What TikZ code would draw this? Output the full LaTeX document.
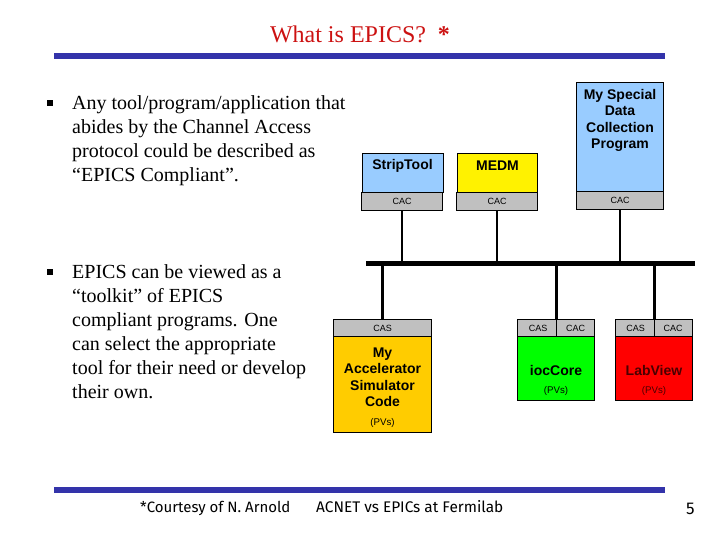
\documentclass[tikz,border=0pt]{standalone}
\usepackage{fontspec}
\setmainfont{Liberation Serif}
\newfontfamily\boxfont{Liberation Sans}
\newfontfamily\footfont{Fira Sans}
\definecolor{rulecol}{HTML}{3333AA}
\definecolor{titlecol}{HTML}{CC1111}
\definecolor{boxblue}{HTML}{99CCFF}
\definecolor{boxgray}{HTML}{C0C0C0}
\definecolor{boxorange}{HTML}{FFCC00}
\definecolor{darkonred}{HTML}{4A0000}
\tikzset{
  x=1pt,y=-1pt,
  blockbox/.style={draw=black,line width=0.8pt,rectangle,anchor=north west,inner sep=0pt,outer sep=0pt,minimum width=#1},
  main/.style={font=\boxfont\bfseries\fontsize{14}{16.5}\selectfont,align=center,inner sep=0pt},
  small/.style={font=\boxfont\fontsize{9}{11}\selectfont,inner sep=0pt},
  pvtext/.style={font=\boxfont\fontsize{9.7}{11}\selectfont,inner sep=0pt},
  rulebar/.style={fill=rulecol,draw=none,rectangle,inner sep=0pt,minimum height=6pt,anchor=west},
  link/.style={line width=2.8pt,black},
  bodytext/.style={font=\fontsize{20}{24}\selectfont,align=left,anchor=north west,inner sep=0pt},
  bulletmark/.style={fill=black,draw=none,rectangle,inner sep=0pt,minimum size=6pt},
  foot/.style={font=\footfont\fontsize{15}{16}\selectfont,inner sep=0pt,anchor=base west},
}
\begin{document}
\begin{tikzpicture}
\useasboundingbox (0,0) rectangle (720,540);
\node[font=\fontsize{24}{28}\selectfont,text=titlecol,inner sep=0pt] (title) at (360,34) {What is EPICS?\ \ \textbf{*}};
\node[rulebar,minimum width=611pt] (toprule) at (54,56) {};
\node[rulebar,minimum width=611pt] (botrule) at (54,490) {};
% left text
\node[bulletmark] (b1) at (50,103) {};
\node[bodytext] (t1) at (72,95) {Any tool/program/application that\\abides by the Channel Access\\protocol could be described as\\“EPICS Compliant”.};
\node[bulletmark] (b2) at (50,272) {};
\node[bodytext] (t2) at (72,264) {EPICS can be viewed as a\\“toolkit” of EPICS\\compliant programs. One\\can select the appropriate\\tool for their need or develop\\their own.};
% bus
\node[fill=black,rectangle,inner sep=0pt,minimum width=329pt,minimum height=4.5pt,anchor=west] (bus) at (366,263.3) {};
% upper boxes
\node[blockbox=81.4pt,minimum height=38.7pt,fill=boxblue] (strip) at (362.3,153.3) {};
\node[blockbox=81.4pt,minimum height=18.5pt,fill=boxgray] (stripc) at (361.3,192) {};
\node[main] at (402.5,166) {StripTool};
\node[small] at (402,201.2) {CAC};
\node[blockbox=80.4pt,minimum height=38.7pt,fill=yellow] (medm) at (457.3,153.3) {};
\node[blockbox=81.4pt,minimum height=18.5pt,fill=boxgray] (medmc) at (456.3,192) {};
\node[main] at (497.5,166) {MEDM};
\node[small] at (497,201.2) {CAC};
\node[blockbox=87.4pt,minimum height=109pt,fill=boxblue] (spec) at (576.3,82.3) {};
\node[blockbox=87.4pt,minimum height=18.2pt,fill=boxgray] (specc) at (576.3,191.3) {};
\node[main] at (620,120.5) {My Special\\Data\\Collection\\Program};
\node[small] at (620,200.4) {CAC};
% lower boxes
\node[blockbox=98.4pt,minimum height=17pt,fill=boxgray] (accs) at (333.3,319.3) {};
\node[blockbox=98.4pt,minimum height=96pt,fill=boxorange] (acc) at (333.3,336.3) {};
\node[main] at (382.5,377.5) {My\\Accelerator\\Simulator\\Code};
\node[pvtext] at (382.5,423) {(PVs)};
\node[small] at (382.5,328) {CAS};
\node[blockbox=39.4pt,minimum height=17pt,fill=boxgray] (iocs) at (517.3,319.3) {};
\node[blockbox=38pt,minimum height=17pt,fill=boxgray] (iocc) at (556.7,319.3) {};
\node[blockbox=77.4pt,minimum height=64pt,fill=green] (ioc) at (517.3,336.3) {};
\node[main] at (556,370) {iocCore};
\node[pvtext] at (556,391) {(PVs)};
\node[small] at (538,328) {CAS};
\node[small] at (575.5,328) {CAC};
\node[blockbox=39pt,minimum height=17pt,fill=boxgray] (labs) at (615.3,319.3) {};
\node[blockbox=38.4pt,minimum height=17pt,fill=boxgray] (labc) at (654.3,319.3) {};
\node[blockbox=77.4pt,minimum height=64pt,fill=red] (lab) at (615.3,336.3) {};
\node[main,text=darkonred] at (654,370) {LabView};
\node[pvtext,text=darkonred] at (654,391) {(PVs)};
\node[small] at (635.5,328) {CAS};
\node[small] at (673,328) {CAC};
% connectors
\draw[link] (stripc.south) -- (stripc.south |- bus.center);
\draw[link] (medmc.south) -- (medmc.south |- bus.center);
\draw[link] (specc.south) -- (specc.south |- bus.center);
\draw[link] (accs.north) -- (accs.north |- bus.center);
\draw[link] (iocs.north east) -- (iocs.north east |- bus.center);
\draw[link] (labs.north east) -- (labs.north east |- bus.center);
% footer
\node[foot] (f1) at (140,512) {*Courtesy of N. Arnold};
\node[foot,font=\footfont\fontsize{15.4}{16}\selectfont] (f2) at (316,512) {ACNET vs EPICs at Fermilab};
\node[foot,font=\footfont\fontsize{17}{18}\selectfont] (f3) at (686,514) {5};
\end{tikzpicture}
\end{document}
